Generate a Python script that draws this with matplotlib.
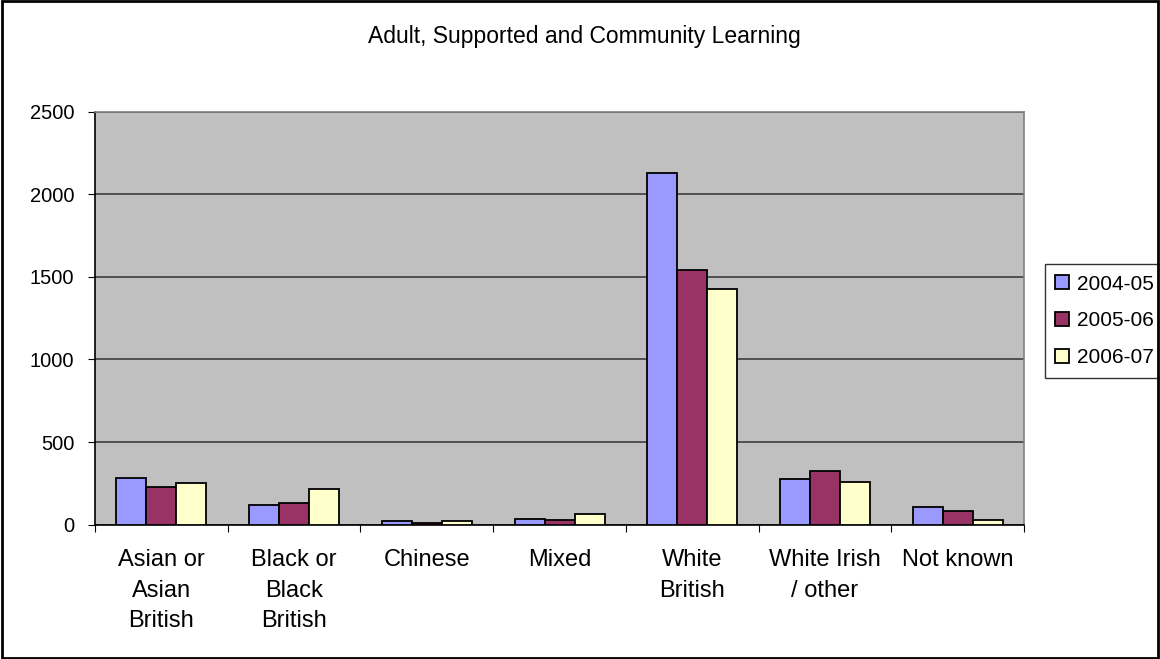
import matplotlib.pyplot as plt
import matplotlib.patches as patches
import numpy as np

plt.rcParams['font.family'] = ['Liberation Sans', 'DejaVu Sans']

# Chart data
categories = ["Asian or\nAsian\nBritish", "Black or\nBlack\nBritish", "Chinese", "Mixed",
              "White\nBritish", "White Irish\n/ other", "Not known"]
years = ["2004-05", "2005-06", "2006-07"]
values_0405 = [282, 119, 24, 32, 2130, 279, 106]
values_0506 = [228, 131, 12, 28, 1542, 323, 84]
values_0607 = [252, 218, 22, 64, 1424, 259, 28]
colors = ["#9999FF", "#993366", "#FFFFCC"]

fig = plt.figure(figsize=(11.6, 6.59), dpi=100)
ax = fig.add_axes([0.0819, 0.2038, 0.8009, 0.6267])
ax.set_facecolor("#C0C0C0")

x = np.arange(len(categories))
width = 0.226
series = [values_0405, values_0506, values_0607]
for i, (vals, year, col) in enumerate(zip(series, years, colors)):
    ax.bar(x + (i - 1) * width, vals, width, color=col, edgecolor="black",
           linewidth=1.3, label=year, zorder=3)

ax.set_xlim(-0.5, len(categories) - 0.5)
ax.set_ylim(0, 2500)
ax.set_yticks(np.arange(0, 2501, 500))
ax.yaxis.grid(True, color="#333333", linewidth=1.1, zorder=1)
ax.tick_params(axis="y", direction="out", length=5, pad=10, labelsize=14.5, color="black")

# boundary ticks (major) and centered labels (minor)
ax.set_xticks(np.arange(-0.5, len(categories), 1.0))
ax.set_xticklabels([])
ax.tick_params(axis="x", which="major", direction="out", length=5, color="black")
ax.set_xticks(x, minor=True)
ax.set_xticklabels(categories, minor=True, fontsize=17, linespacing=1.5, va="top")
ax.tick_params(axis="x", which="minor", length=0, pad=17.5)

for side in ["left", "bottom"]:
    ax.spines[side].set_color("black")
    ax.spines[side].set_linewidth(1.2)
for side in ["top", "right"]:
    ax.spines[side].set_color("#808080")
    ax.spines[side].set_linewidth(1.2)

fig.text(0.504, 1 - 43 / 659, "Adult, Supported and Community Learning", ha="center",
         va="baseline", fontsize=16.5)

leg = ax.legend(loc="center left", bbox_to_anchor=(1045 / 1160, 0.513),
                bbox_transform=fig.transFigure, fontsize=15, frameon=True,
                fancybox=False, edgecolor="black", handlelength=0.65,
                handleheight=0.65, handletextpad=0.4, labelspacing=0.85,
                borderpad=0.5, borderaxespad=0)
leg.get_frame().set_linewidth(1.0)

fig.patches.append(patches.Rectangle((0.002, 0.002), 0.996, 0.996, transform=fig.transFigure,
                                     fill=False, edgecolor="black", linewidth=2))

fig.savefig("out.png", dpi=100)
